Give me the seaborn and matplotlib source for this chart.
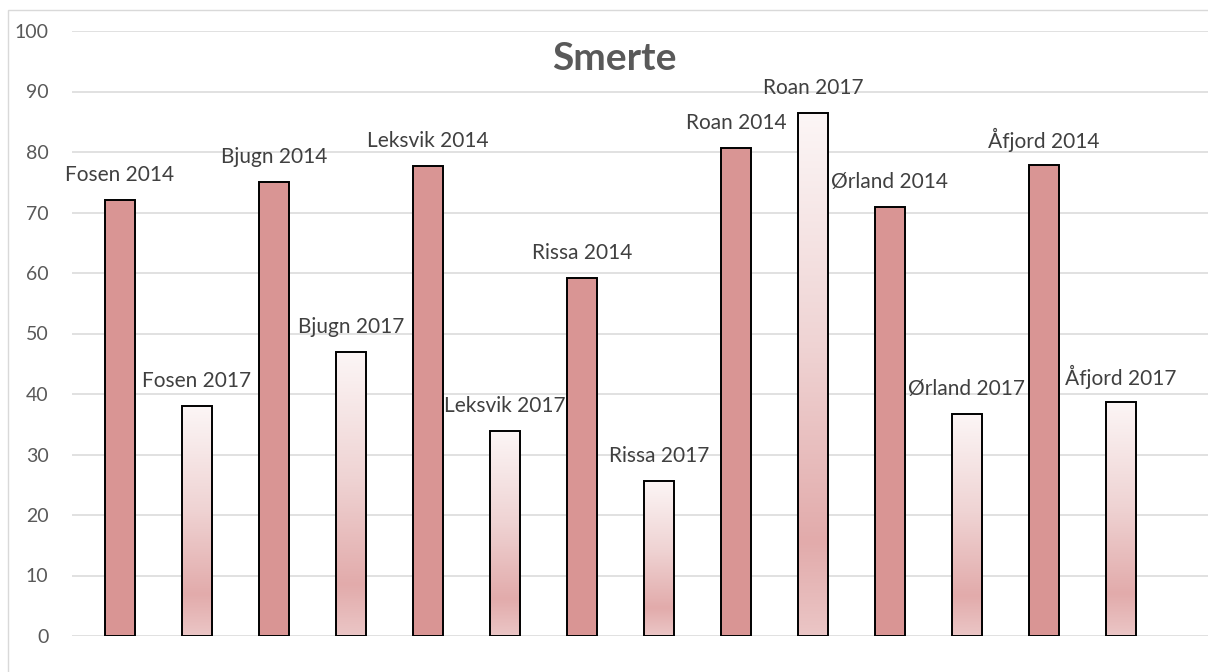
import numpy as np
import pandas as pd
import matplotlib
matplotlib.use("Agg")
import matplotlib.pyplot as plt
from matplotlib.colors import LinearSegmentedColormap
from matplotlib.patches import Rectangle
import seaborn as sns

# ---- data ----
labels = ["Fosen 2014", "Fosen 2017", "Bjugn 2014", "Bjugn 2017",
          "Leksvik 2014", "Leksvik 2017", "Rissa 2014", "Rissa 2017",
          "Roan 2014", "Roan 2017", "Ørland 2014", "Ørland 2017",
          "Åfjord 2014", "Åfjord 2017"]
values = [72.0, 38.0, 75.0, 47.0, 77.7, 33.9, 59.1, 25.7,
          80.6, 86.4, 70.9, 36.7, 77.9, 38.7]
years = ["2014", "2017"] * 7
title = "Smerte"
yticks = list(range(0, 101, 10))

SOLID = "#D99594"
TEXT = "#595959"
GRID = "#D9D9D9"

sns.set_theme(style="white")
plt.rcParams["font.family"] = ["Lato", "DejaVu Sans"]

W, H = 1208, 672
fig = plt.figure(figsize=(W / 100, H / 100), dpi=100)
ax = fig.add_axes([72 / W, 1 - 636 / H, (W - 72) / W, (636 - 31) / H])

df = pd.DataFrame({"label": labels, "value": values, "year": years})
palette = {l: (SOLID if y == "2014" else "#F2DCDB") for l, y in zip(labels, years)}
sns.barplot(data=df, x="label", y="value", hue="label", palette=palette,
            order=labels, hue_order=labels, width=0.39, legend=False,
            edgecolor="black", linewidth=1.4, saturation=1, ax=ax, zorder=3)

# gradient fill for 2017 bars
cmap = LinearSegmentedColormap.from_list(
    "grad", [(0.0, "#FCF6F6"), (0.45, "#EFD3D3"), (0.82, "#E2ABAB"), (1.0, "#EBC6C6")])
grad = np.linspace(0, 1, 256).reshape(-1, 1)
for p in ax.patches:
    cx = p.get_x() + p.get_width() / 2
    i = int(round(cx))
    if years[i] == "2017":
        x0, w, h = p.get_x(), p.get_width(), p.get_height()
        p.set_facecolor("none")
        im = ax.imshow(grad, cmap=cmap, aspect="auto", origin="upper",
                       extent=[x0, x0 + w, 0, h], zorder=2.5, interpolation="bilinear")
        im.set_clip_path(p)

for i, (l, v) in enumerate(zip(labels, values)):
    ax.annotate(l, (i, v), xytext=(0, 25), textcoords="offset pixels",
                ha="center", va="center", fontsize=15, color="#404040", zorder=5)

ax.set_ylim(0, 100)
ax.set_xlim(-0.623, (W - 120) / 77.0)
ax.set_yticks(yticks)
ax.set_xticks([])
ax.set_xlabel("")
ax.set_ylabel("")
ax.yaxis.grid(True, color=GRID, linewidth=1.1, zorder=0)
ax.set_axisbelow(True)
for s in ax.spines.values():
    s.set_visible(False)
ax.tick_params(axis="y", length=0, pad=17, labelsize=14, labelcolor=TEXT)

fig.text(614 / W, 1 - 58 / H, title, ha="center", va="center",
         fontsize=28, fontweight="bold", color=TEXT)

fig.patches.append(Rectangle((8 / W, -0.05), 1.2, 1 - 10 / H + 0.05,
                             transform=fig.transFigure, fill=False,
                             edgecolor=GRID, linewidth=1.0, zorder=0))

fig.savefig("out.png", dpi=100)
